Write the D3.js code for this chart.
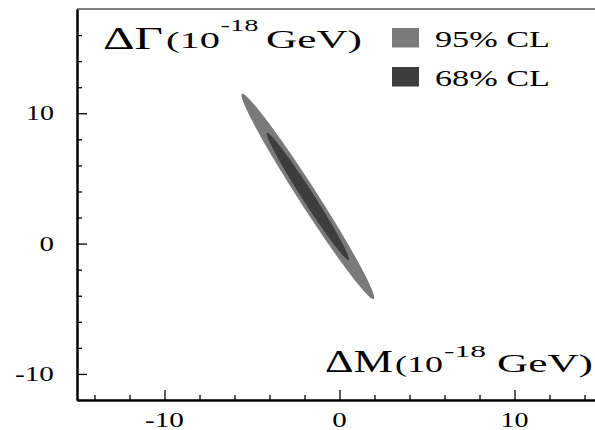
<!DOCTYPE html>
<html>
<head>
<meta charset="utf-8">
<script src="https://cdn.jsdelivr.net/npm/d3@7"></script>
<style>
  html, body { margin: 0; padding: 0; background: #fff; }
  svg { display: block; }
  text { font-family: "Liberation Serif", "Times New Roman", serif; fill: #000; }
</style>
</head>
<body>
<svg id="chart" width="595" height="430"></svg>
<script>
// Confidence regions in the (ΔM, ΔΓ) plane, units of 1e-18 GeV
const levels      = ["95% CL", "68% CL"];
const deltaChi2   = [5.99, 2.30];          // two-parameter contour levels
const levelColors = ["#7a7a7a", "#3d3d3d"];

// best-fit point and uncertainties of the two-parameter fit
const center = [-1.81, 3.62];              // [ΔM, ΔΓ]
const sigma  = [1.55, 3.22];               // [σ(ΔM), σ(ΔΓ)]
const rho    = -0.986;                     // correlation ΔM–ΔΓ

// axis ticks
const xMajor = [-10, 0, 10];
const xMinor = [-14, -12, -8, -6, -4, -2, 2, 4, 6, 8, 12, 14];
const yMajor = [-10, 0, 10];
const yMinor = [-8, -6, -4, -2, 2, 4, 6, 8, 12, 14, 16];

const svg = d3.select("#chart");

const x = d3.scaleLinear().domain([-15, 15]).range([77, 602]);
const y = d3.scaleLinear().domain([-12, 18]).range([400, 9]);

// ---- contours (drawn largest first) ----
function contour(k, n) {
  const pts = [];
  const r = Math.sqrt(k);
  const s = Math.sqrt(1 - rho * rho);
  for (let i = 0; i <= n; i++) {
    const t = 2 * Math.PI * i / n;
    const u = Math.cos(t), v = Math.sin(t);
    pts.push([center[0] + r * sigma[0] * u,
              center[1] + r * sigma[1] * (rho * u + s * v)]);
  }
  return pts;
}
const line = d3.line().x(d => x(d[0])).y(d => y(d[1])).curve(d3.curveLinearClosed);
svg.append("g").selectAll("path")
  .data(levels.map((l, i) => ({ k: deltaChi2[i], c: levelColors[i] })))
  .join("path")
  .attr("d", d => line(contour(d.k, 360)))
  .attr("fill", d => d.c)
  .attr("stroke", "none");

// ---- axes ----
const gx = svg.append("g").attr("transform", `translate(0,${y(-12)})`);
gx.append("g").call(d3.axisBottom(x).tickValues(xMinor).tickSize(-5).tickSizeOuter(0).tickFormat(""));
gx.append("g").call(d3.axisBottom(x).tickValues(xMajor).tickSize(-10).tickSizeOuter(0).tickFormat(""));
gx.selectAll(".domain").attr("stroke", "#000").attr("stroke-width", 2);
gx.selectAll(".tick line").attr("stroke", "#000").attr("stroke-width", 1.3);

const gy = svg.append("g").attr("transform", `translate(${x(-15)},0)`);
gy.append("g").call(d3.axisLeft(y).tickValues(yMinor).tickSize(-5).tickSizeOuter(0).tickFormat(""));
gy.append("g").call(d3.axisLeft(y).tickValues(yMajor).tickSize(-10).tickSizeOuter(0).tickFormat(""));
gy.selectAll(".domain").attr("stroke", "#000").attr("stroke-width", 2);
gy.selectAll(".tick line").attr("stroke", "#000").attr("stroke-width", 1.3);

// top frame line
svg.append("line")
  .attr("x1", x(-15)).attr("x2", x(15))
  .attr("y1", y(18)).attr("y2", y(18))
  .attr("stroke", "#555").attr("stroke-width", 1.5);

// wide serif text, stretched to a given length
function wideText(g, str, x0, base, size, len) {
  return g.append("text")
    .attr("x", x0).attr("y", base)
    .attr("font-size", size)
    .attr("textLength", len)
    .attr("lengthAdjust", "spacingAndGlyphs")
    .text(str);
}
const labelWidth = { "-10": 39, "0": 14.5, "10": 28 };

// tick labels
const tl = svg.append("g");
xMajor.forEach(v => {
  const s = String(v), w = labelWidth[s];
  wideText(tl, s, x(v) - w / 2, 427, 20, w);
});
yMajor.forEach(v => {
  const s = String(v), w = labelWidth[s];
  wideText(tl, s, 54 - w, y(v) + 7, 20, w);
});

// axis titles
const tt = svg.append("g");
wideText(tt, "ΔΓ", 103, 48.5, 31, 60);
wideText(tt, "(10", 166, 48, 24, 54);
wideText(tt, "-18", 220.5, 31, 17, 38);
wideText(tt, "GeV)", 266, 48, 25, 96);

wideText(tt, "ΔM", 325, 372, 32, 68);
wideText(tt, "(10", 395, 372, 24, 48);
wideText(tt, "-18", 444, 357, 17, 42);
wideText(tt, "GeV)", 497, 372, 25, 96);

// legend
const lg = svg.append("g");
levels.forEach((l, i) => {
  const top = 28 + i * 39;
  lg.append("rect")
    .attr("x", 392).attr("y", top)
    .attr("width", 27).attr("height", 19.5)
    .attr("fill", levelColors[i]);
  wideText(lg, l, 435, top + 18.5, 24, 115);
});
</script>
</body>
</html>
